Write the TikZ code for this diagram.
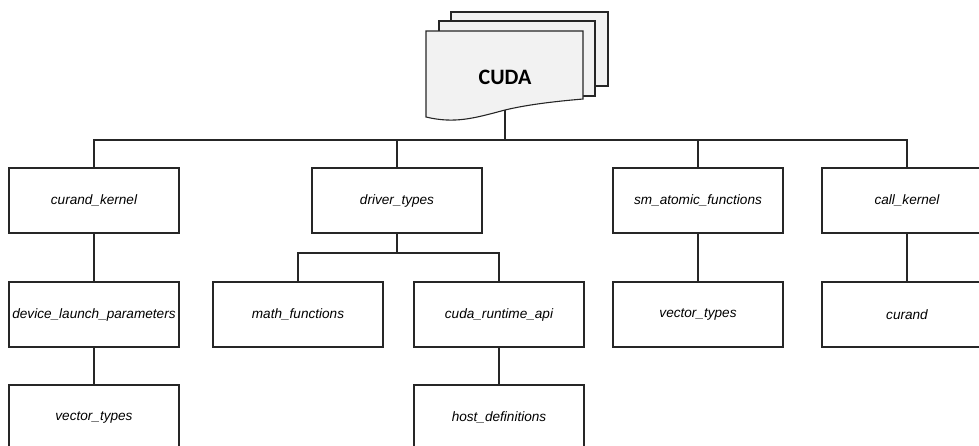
\documentclass[tikz,border=0pt]{standalone}
\usepackage{fontspec}
\setmainfont{Liberation Sans}
\newfontfamily\cudafont{Carlito}
\begin{document}
\begin{tikzpicture}[x=1pt,y=-1pt,
  box/.style={draw=black!85,line width=1.1pt,fill=white,minimum width=170pt,minimum height=65pt,inner sep=0pt,font=\fontsize{13.6}{15}\selectfont\itshape},
  link/.style={draw=black!85,line width=1.1pt},
  page/.style={draw=black!85,line width=1.1pt,fill=black!5}]
\useasboundingbox (0,0) rectangle (979,445);
\clip (0,0) rectangle (979,445);
% document stack
\draw[page] (451,12) rectangle (608,86);
\draw[page] (439,21) rectangle (595,96);
\draw[page] (426,31) -- (583,31) -- (583,99)
  .. controls (560,101) and (530,104) .. (505,110)
  .. controls (475,118) and (455,124) .. (426,117) -- cycle;
\node[font=\cudafont\bfseries\fontsize{22}{24}\selectfont] (cuda) at (505,77) {CUDA};
\coordinate (cudab) at (505,110);
\coordinate (j1) at (505,140);
% row 1
\node[box] (ck) at (94,200.5) {curand\_kernel};
\node[box] (dt) at (397,200.5) {driver\_types};
\node[box] (sa) at (698,200.5) {sm\_atomic\_functions};
\node[box] (ckl) at (907,200.5) {call\_kernel};
% row 2
\node[box] (dlp) at (94,314.5) {device\_launch\_parameters};
\node[box] (mf) at (298,314.5) {math\_functions};
\node[box] (cra) at (499,314.5) {cuda\_runtime\_api};
\node[box] (vt2) at (698,314.5) {vector\_types};
\node[box] (cu) at (907,314.5) {curand};
% row 3
\node[box] (vt1) at (94,417.5) {vector\_types};
\node[box] (hd) at (499,417.5) {host\_definitions};
\coordinate (j2) at (397,253);
% connectors
\draw[link] (cudab) -- (j1);
\draw[link] (j1) -| (ck.north);
\draw[link] (j1) -| (dt.north);
\draw[link] (j1) -| (sa.north);
\draw[link] (j1) -| (ckl.north);
\draw[link] (ck) -- (dlp);
\draw[link] (dlp) -- (vt1);
\draw[link] (dt.south) -- (j2);
\draw[link] (j2) -| (mf.north);
\draw[link] (j2) -| (cra.north);
\draw[link] (cra) -- (hd);
\draw[link] (sa) -- (vt2);
\draw[link] (ckl) -- (cu);
\end{tikzpicture}
\end{document}
